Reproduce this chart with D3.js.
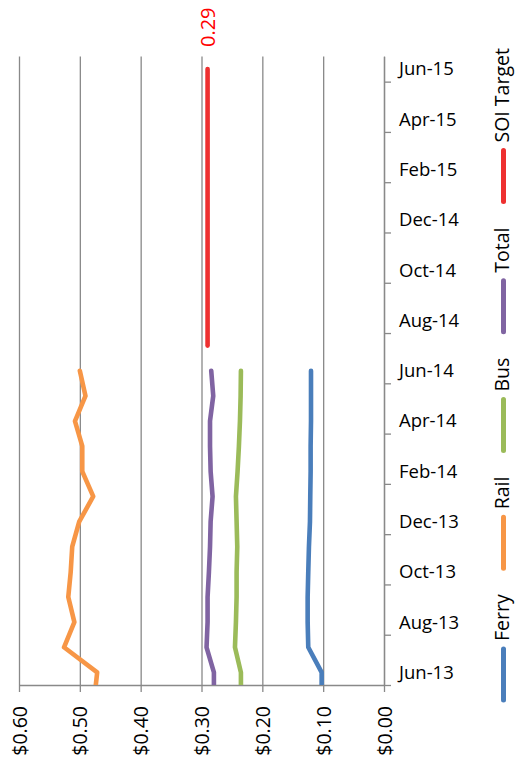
<!DOCTYPE html>
<html>
<head>
<meta charset="utf-8">
<script src="https://cdn.jsdelivr.net/npm/d3@7"></script>
<style>
  body { margin: 0; background: #fff; }
  text { font-family: "Open Sans", Lato, sans-serif; }
</style>
</head>
<body>
<div class="chart"></div>
<script>
var svgWidth = 515;
var svgHeight = 762;

// months on the category axis (May-13 sits just below the plot and is clipped)
var months = ["May-13", "Jun-13", "Jul-13", "Aug-13", "Sep-13", "Oct-13", "Nov-13", "Dec-13",
  "Jan-14", "Feb-14", "Mar-14", "Apr-14", "May-14", "Jun-14", "Jul-14", "Aug-14",
  "Sep-14", "Oct-14", "Nov-14", "Dec-14", "Jan-15", "Feb-15", "Mar-15", "Apr-15",
  "May-15", "Jun-15"];

// series values, May-13 .. Jun-14
var ferry = [0.1025, 0.1025, 0.1245, 0.1255, 0.1255, 0.1245, 0.1234, 0.1217, 0.1212, 0.1206, 0.1206, 0.1200, 0.1200, 0.1200];
var rail = [0.476, 0.4715, 0.526, 0.509, 0.519, 0.515, 0.5125, 0.501, 0.478, 0.496, 0.496, 0.508, 0.4907, 0.500];
var bus = [0.2352, 0.2352, 0.245, 0.2434, 0.2423, 0.2423, 0.2412, 0.2423, 0.2434, 0.2407, 0.2385, 0.2368, 0.2357, 0.2352];
var total = [0.2796, 0.2796, 0.2917, 0.290, 0.290, 0.2878, 0.286, 0.285, 0.2818, 0.285, 0.286, 0.286, 0.2807, 0.284];
// SOI target, Jul-14 .. Jun-15
var soiTarget = [0.29, 0.29, 0.29, 0.29, 0.29, 0.29, 0.29, 0.29, 0.29, 0.29, 0.29, 0.29];

var valueTicks = [0, 0.1, 0.2, 0.3, 0.4, 0.5, 0.6];

var series = [
  { name: "Ferry", values: ferry, start: 0, color: "#4a7ebb" },
  { name: "Rail", values: rail, start: 0, color: "#f79646" },
  { name: "Bus", values: bus, start: 0, color: "#9bbb59" },
  { name: "Total", values: total, start: 0, color: "#8064a2" },
  { name: "SOI Target", values: soiTarget, start: 14, color: "#ee3030" }
];

var plot = { left: 19, right: 384, top: 56.5, bottom: 685 };

var svg = d3.select(".chart")
  .append("svg")
  .attr("width", svgWidth)
  .attr("height", svgHeight);

// values run right to left, months run bottom to top
var xScale = d3.scaleLinear()
  .domain([0.6, 0])
  .range([plot.left, plot.right]);

var yScale = d3.scaleLinear()
  .domain([0.5, months.length - 0.5])
  .range([plot.bottom, plot.top]);

svg.append("clipPath")
  .attr("id", "plotClip")
  .append("rect")
  .attr("x", plot.left - 5)
  .attr("y", plot.top)
  .attr("width", plot.right - plot.left + 10)
  .attr("height", plot.bottom - plot.top);

// gridlines
svg.append("g")
  .attr("transform", `translate(0, ${plot.bottom})`)
  .call(d3.axisBottom(xScale).tickValues(valueTicks).tickSize(-(plot.bottom - plot.top)).tickFormat(""))
  .call(g => g.select(".domain").remove())
  .selectAll("line")
  .attr("stroke", "#898989")
  .attr("stroke-width", 1.3);

// value axis
var xAxis = svg.append("g")
  .attr("transform", `translate(0, ${plot.bottom})`)
  .call(d3.axisBottom(xScale).tickValues(valueTicks).tickSize(7).tickSizeOuter(0).tickFormat(d3.format("$.2f")));

xAxis.select(".domain").attr("stroke", "#898989").attr("stroke-width", 1.3);
xAxis.selectAll(".tick line").attr("stroke", "#898989").attr("stroke-width", 1.3);
xAxis.selectAll(".tick text")
  .attr("transform", "rotate(-90)")
  .attr("x", -21)
  .attr("y", 0)
  .attr("dy", "0.36em")
  .attr("text-anchor", "end")
  .attr("fill", "#000")
  .style("font-family", "\"Open Sans\", sans-serif")
  .style("font-size", "19.5px");

// category axis: ticks between every second month
var tickIdx = d3.range(0.5, months.length - 1, 2);
var yAxis = svg.append("g")
  .attr("transform", `translate(${plot.right}, 0)`)
  .call(d3.axisRight(yScale).tickValues(tickIdx).tickSize(7).tickSizeOuter(0).tickFormat(""));

yAxis.select(".domain").attr("stroke", "#898989").attr("stroke-width", 1.3);
yAxis.selectAll(".tick line").attr("stroke", "#898989").attr("stroke-width", 1.3);

// category labels
var labelIdx = d3.range(1, months.length, 2);
var yLabels = svg.append("g")
  .attr("transform", `translate(${plot.right}, 0)`)
  .call(d3.axisRight(yScale).tickValues(labelIdx).tickSize(0).tickPadding(15).tickFormat(i => months[i]));

yLabels.select(".domain").remove();
yLabels.selectAll("text")
  .attr("fill", "#000")
  .style("font-family", "\"Open Sans\", sans-serif")
  .style("font-size", "18.5px");

// lines
var line = d3.line()
  .x(d => xScale(d.v))
  .y(d => yScale(d.i));

var linesGroup = svg.append("g")
  .attr("clip-path", "url(#plotClip)");

linesGroup.selectAll("path")
  .data(series)
  .enter()
  .append("path")
  .attr("d", s => line(s.values.map((v, k) => ({ v: v, i: s.start + k }))))
  .attr("fill", "none")
  .attr("stroke", s => s.color)
  .attr("stroke-width", 4.6)
  .attr("stroke-linecap", "round")
  .attr("stroke-linejoin", "round");

// data label on the last SOI target point
svg.append("text")
  .attr("transform", `translate(${xScale(soiTarget[soiTarget.length - 1])}, 47) rotate(-90)`)
  .attr("dy", "0.36em")
  .attr("fill", "#ff0000")
  .style("font-size", "20px")
  .text(soiTarget[soiTarget.length - 1].toFixed(2));

// legend, reading bottom to top
var legendX = 503.5;
var cursor = 702;
series.forEach(function (s) {
  svg.append("line")
    .attr("x1", legendX).attr("x2", legendX)
    .attr("y1", cursor - 2).attr("y2", cursor - 53)
    .attr("stroke", s.color)
    .attr("stroke-width", 5)
    .attr("stroke-linecap", "round");
  var label = svg.append("text")
    .attr("transform", `translate(${legendX - 1.5}, ${cursor - 61}) rotate(-90)`)
    .attr("dy", "0.34em")
    .attr("fill", "#000")
    .style("font-size", "19.5px")
    .text(s.name);
  cursor = cursor - 61 - label.node().getComputedTextLength() - 24;
});
</script>
</body>
</html>
